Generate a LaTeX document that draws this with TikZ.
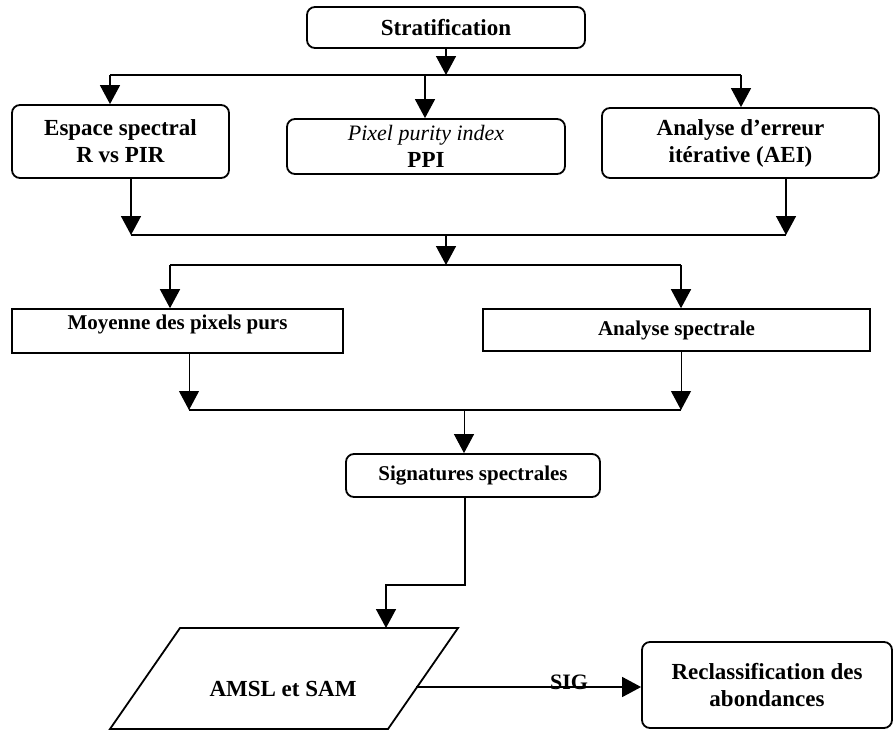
\documentclass[tikz,border=0pt]{standalone}
\usepackage{fontspec}
\setmainfont{Liberation Serif}
\usetikzlibrary{arrows.meta}
\begin{document}
\begin{tikzpicture}[x=1pt,y=-1pt,
  rbox/.style={draw, line width=1.8pt, rounded corners=8pt, inner sep=0pt, align=center,
    font=\fontsize{23}{27}\selectfont\bfseries},
  sbox/.style={draw, line width=1.6pt, inner sep=0pt, align=center,
    font=\fontsize{21}{25}\selectfont\bfseries},
  ln/.style={line width=1.5pt},
  thinln/.style={line width=1pt},
  arr/.style={-{Triangle[length=19pt,width=20pt]}},
  lbl/.style={font=\fontsize{23}{27}\selectfont\bfseries, inner sep=0pt}
]
\useasboundingbox (0,0) rectangle (893,731);

% boxes
\node[rbox, minimum width=278, minimum height=41] (strat) at (446,27.5) {Stratification};
\node[rbox, minimum width=217, minimum height=73] (esp) at (120.5,141.5) {Espace spectral\\R vs PIR};
\node[rbox, minimum width=278, minimum height=55] (ppi) at (426,146.5)
  {{\fontsize{22}{26}\selectfont\mdseries\itshape Pixel purity index}\\PPI};
\node[rbox, minimum width=277, minimum height=70] (aei) at (740.5,143) {Analyse d’erreur\\itérative (AEI)};
\node[sbox, minimum width=331, minimum height=44, text height=15pt, text depth=18pt] (moy) at (177.5,331)
  {Moyenne des pixels purs};
\node[sbox, minimum width=387, minimum height=42] (ana) at (676.5,330) {Analyse spectrale};
\node[rbox, minimum width=254, minimum height=43, font=\fontsize{21}{25}\selectfont\bfseries] (sig) at (473,475.5)
  {Signatures spectrales};
\coordinate (pTL) at (180,628);
\coordinate (pTR) at (458,628);
\coordinate (pBR) at (388,729);
\coordinate (pBL) at (110,729);
\draw[line width=1.8pt] (pTL) -- (pTR) -- (pBR) -- (pBL) -- cycle;
\node[lbl] (amsl) at (283,689) {AMSL et SAM};
\node[rbox, minimum width=250, minimum height=86] (rec) at (767,685) {Reclassification des\\abondances};

% level 1
\coordinate (h1L) at (110,75);
\coordinate (h1P) at (425,75);
\coordinate (h1M) at (446,75);
\coordinate (h1R) at (741,75);
\draw[ln,arr] (strat.south) -- (h1M);
\draw[ln] (h1L) -- (h1R);
\draw[ln,arr] (h1L) -- (h1L |- esp.north);
\draw[ln,arr] (h1P) -- (h1P |- ppi.north);
\draw[ln,arr] (h1R) -- (h1R |- aei.north);

% level 2
\coordinate (h2L) at (131,235);
\coordinate (h2M) at (446,235);
\coordinate (h2R) at (786,235);
\draw[ln,arr] (esp.south -| h2L) -- (h2L);
\draw[ln,arr] (aei.south -| h2R) -- (h2R);
\draw[ln] (h2L) -- (h2R);

% level 3
\coordinate (h3L) at (170,265);
\coordinate (h3M) at (446,265);
\coordinate (h3R) at (681,265);
\draw[ln,arr] (h2M) -- (h3M);
\draw[ln] (h3L) -- (h3R);
\draw[ln,arr] (h3L) -- (h3L |- moy.north);
\draw[ln,arr] (h3R) -- (h3R |- ana.north);

% level 4
\coordinate (h4L) at (189,410);
\coordinate (h4M) at (464,410);
\coordinate (h4R) at (681,410);
\draw[thinln,arr] (moy.south -| h4L) -- (h4L);
\draw[thinln,arr] (ana.south -| h4R) -- (h4R);
\draw[ln] (h4L) -- (h4R);
\draw[thinln,arr] (h4M) -- (h4M |- sig.north);

% signatures -> AMSL
\coordinate (b1) at (465,585);
\coordinate (b2) at (386,585);
\draw[ln,arr] (sig.south -| b1) -- (b1) -- (b2) -- (b2 |- pTL);

% AMSL -> Reclassification
\coordinate (pR) at (416,687);
\draw[ln,arr] (pR) -- (rec.west |- pR);
\node[font=\fontsize{22}{26}\selectfont\bfseries, inner sep=0pt, anchor=base] (siglbl) at (569,689) {SIG};
\end{tikzpicture}
\end{document}
